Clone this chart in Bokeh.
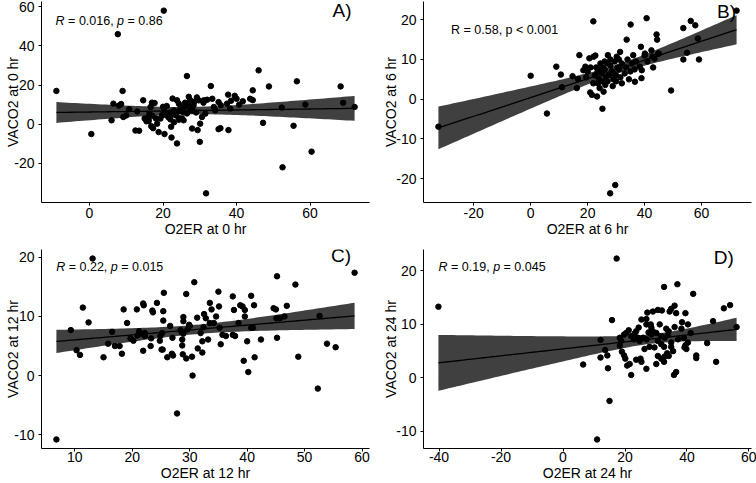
import numpy as np
from bokeh.plotting import figure
from bokeh.models import Range1d, FixedTicker, Label
from bokeh.layouts import column, row
from bokeh.embed import file_html
from bokeh.resources import INLINE

FONT = "Liberation Sans"

# ---- O2ER vs VACO2 at 0 hr ----
o2er_0 = [-9, 0.5, 7.7, 20.2, 6, 6.5, 9, 8, 8.6, 9.2, 10, 10.8, 12.5, 13.5, 13, 14.6, 15, 17, 17.7,
          16.6, 16.3, 17, 15.7, 16.1, 16.8, 17.3, 18.4, 18.8, 19.3, 19.7, 20, 20.5, 21, 20.4, 22.2,
          22.3, 23.8, 22.6, 23.8, 24.3, 26.5, 27, 27.4, 28.3, 25.2, 25.6, 27.4, 27.9, 29.2, 29.7,
          30.1, 30.6, 31.5, 31.1, 30, 29.4, 27.9, 31.7, 33, 33.4, 33.8, 34.2, 35.1, 35.7, 35.6, 35.1,
          37.7, 37.4, 38.3, 37.8, 40.7, 41.7, 43.7, 44.4, 44.4, 46, 47.2, 48.8, 52.3, 52.5, 55.5,
          56.4, 58.7, 60.4, 68.3, 69, 72.1,
          18, 15.5, 16, 20.5, 21, 21.5, 22, 22, 22.5, 23, 23, 23.5, 24, 24.3, 24.5, 24.8, 25, 25.5,
          26, 26, 26.5, 27, 28, 28.5, 29, 31, 32, 38.5, 40, 39.5]
vaco2_0 = [17, -5, 46, 58, 2, 10.5, 17, 9.5, 10.3, 3.7, 4.5, 7.7, -3.2, -3.3, 6.5, 12.2, 2.9, 11, 10.8,
           8.8, 5.3, 4.4, 3.1, 1.7, -1, -2, 0.3, -4, 2.9, 4.6, 8.9, 6.2, 9.3, -5, -1.3,
           -6.8, -9.8, 13.1, 12.2, 10.5, 24.6, 14, 12.2, 9.7, 2.9, 2, 7.1, 8.8, 13.7, 12.2,
           0.3, 3.7, 5.4, 12.2, -9, -3, -2.2, -35.3, 19.5, 13, 8.8, 7.1, 11.3, 9.7, -2, -2.5,
           15.1, 10.5, 8, -3, 10, 11.7, 13, 12.3, 17.3, 27.5, 0.7, 19.3, 8.5, -22, -0.8,
           21.9, 10, -14, 19.3, 11, 8.8,
           3, 1.5, 2.5, 5, 4.5, 3.5, 2.5, 6, 5, 7, 1, 4.5, 6.5, 2.3, 3, 9, 8, 6,
           9, 11, 5.5, 10, 7, 11.5, 6, 11, 12.5, 12, 13, 14.5]

# ---- O2ER vs VACO2 at 6 hr ----
o2er_6 = [-32.4, 0, 5.7, 9, 10.6, 11, 14.7, 16.2, 17.1, 16.6, 18.5, 19.2, 20, 20.6, 20.9, 21.5, 22,
          22.1, 22.7, 23.3, 23.6, 24.2, 25.6, 25.2, 26.2, 27.1, 27.9, 29.7, 28.8, 30.2, 31.4, 32,
          33.7, 35.1, 36, 36.6, 38.3, 38.7, 38.9, 39, 40.7, 40.1, 42.4, 42.8, 44.2, 44.4, 44.8, 49.3,
          53.6, 53.6, 54.9, 56.2, 57.8, 58.7, 59.1, 72.3,
          22.5, 23, 23.5, 24, 24.5, 25, 25.5, 26, 26.5, 27, 27.5, 28, 28.5, 29, 29.5, 30, 30.5, 31,
          31.5, 32, 33, 33.5, 34, 34.5, 35, 35.5, 36.5, 37, 24, 25, 26, 27, 28, 29, 30, 31, 22, 21,
          19.5, 41, 43, 43.5, 45, 40]
vaco2_6 = [-6.9, 5.9, -3.6, 8.2, 6.2, 3, 5.8, 2.8, 11.1, 5.1, 7.3, 8.2, 6.9, 10.3, 1.7, 1.1, 19.6,
           10.7, 11, 0.7, 4.0, 2.8, 1.9, -2.4, 3.6, 11.1, -23.7, -21.6, 3.3, 10.7, 11.9, 4,
           15, 18.8, 11.1, 4.4, 8.2, 13.2, 5.3, 7.3, 20.4, 11.5, 12.3, 10.7, 16.3, 15, 11.5, 2.2,
           17.9, 10, 11.7, 19.7, 18.6, 15.3, 10, 22.3,
           6, 8, 7, 5, 9, 6.5, 8, 7.5, 5.5, 9, 6, 8.5, 7, 5, 9.5, 6, 8, 7.5,
           5.5, 9, 6.5, 8, 10, 5, 7, 9, 7.5, 9.5, 7.5, 4.5, 9.5, 4.5, 10, 6.5, 4.5, 10, 4, 8,
           5.5, 9.5, 8, 10.2, 11.5, 11]

# ---- O2ER vs VACO2 at 12 hr ----
o2er_12 = [6.8, 9.3, 10.3, 10.9, 11.4, 12.4, 13.1, 15, 15.8, 16.5, 17, 17.8, 18.2, 18.5, 19.1, 19.7,
           20.2, 20.8, 20.9, 21.2, 21.5, 21.9, 22, 21.9, 22.2, 22.2, 23.2, 23.3, 23.5, 23.6, 24.3,
           24.8, 25.1, 25.3, 25.4, 25.4, 25.5, 25.2, 24.9, 26.1, 26.6, 26.9, 27.1, 27, 27.8, 28.4,
           28.6, 28.7, 28.7, 28.9, 28.9, 28.9, 28.8, 29.4, 29.4, 29.6, 29.9, 30, 30.4, 30.5, 30.8,
           31.3, 31.4, 31.9, 32.2, 32.2, 32.4, 32.5, 32.8, 33.2, 33.5, 33.5, 33.8, 34.2, 34.6, 35,
           35.1, 35.2, 35.4, 35.7, 36.3, 37.5, 37.7, 37.5, 37.9, 38.5, 38.8, 39.2, 39.4, 39.6, 39.6,
           40, 40.2, 40.7, 40.7, 41, 41.2, 41.3, 42.4, 44.6, 45, 45.1, 45.2, 45.2, 45.7, 46.5, 46.9,
           48.4, 48.9, 52.3, 52.6, 53.9, 55.4, 58.7]
vaco2_12 = [-10.8, 7.7, 4.3, 3.5, 11.5, 9, 19.8, 3.1, 5.4, 7.4, 5, 5, 3.7, 11.2, 8.9, 6.3,
            5.9, 11.2, 6.8, 7.5, 7.1, 12.2, 11.9, 4.2, 7.2, 6.7, 5, 6.3, 11, 10.7, 12.3,
            5.9, 4.4, 4.4, 10.9, 9.3, 14, 7.2, 6.7, 3.1, 8.4, 3.7, 3.4, 6.4, -6.4, 7.7,
            7.3, 6.1, 5.1, 7.1, 9.9, 9.2, 3.6, 13.8, 2.9, 7.8, 8.6, 8.4, 3.2, 0, 15.8,
            9.8, 4.6, 7.2, 5.8, 3.9, 8.2, 10.4, 9.7, 6.1, 8.9, 12.3, 11.2, 8.9, 10, 14.2,
            11.7, 8.1, 5.3, 6.9, 6.7, 13.4, 11.1, 6.9, 6.7, 8.9, 11.9, 11.7, 2.5, 11.1, 10,
            5.8, 0.6, 13.5, 8.1, 8.1, 11.9, 3.1, 6.1, 11.4, 11.2, 9.7, 6.4, 16.8, 9.7, 10, 11.8,
            15.4, 3.2, -2.2, 10.1, 5.4, 4.8, 17.4]

# ---- O2ER vs VACO2 at 24 hr ----
o2er_24 = [-40.2, 6.5, 11, 15, 17.3, 15.8, 32.6, 36.9, 42, 51.9, 53.9, 56, 48.4, 49.4, 46.5, 43, 43,
           35.8, 36.5, 26.9, 28.3, 25.3, 26.9, 27.2, 29, 30.6, 31.9, 34.9, 36, 34.4, 36.5, 39.5,
           38.4, 40.3, 36, 38.2, 33.3, 34.1, 31.2, 28.5, 29, 27.6, 24.4, 23.6, 23.1, 21.2, 20.4,
           19.7, 18.3, 18.8, 22, 22.9, 24.2, 24.7, 25.8, 26.9, 28.5, 30.1, 31.7, 32.8, 33.9, 30.6,
           31.7, 32.6, 34.9, 37.1, 39, 39.5, 40.3, 41.2, 39.2, 12.1, 13.6, 12.1, 14.3, 14.5, 18.3,
           19, 19.7, 20.1, 20.7, 21.5, 22, 23.6, 25, 25.3, 26.9, 26.3, 27.9, 29.5, 30.6, 31.7, 32.8,
           33.6, 34.1, 30.1, 32.6, 34.9, 35.5, 39.8]
vaco2_24 = [13.3, 2.5, -11.5, -4.3, 22.3, 10.8, 17, 17.5, 15.7, 13, 13.6, 9.5, 10.6, 3, 6.5, 4.2, 3.7,
            0.55, 1.1, 10, 10, 10.9, 11, 12.2, 12.4, 12.7, 12.6, 12.9, 13.5, 12.4, 12.1, 12.1,
            10.4, 10, 9.5, 9.2, 9.2, 8.7, 10, 9.4, 8.7, 8.5, 9.4, 8.7, 8.3, 8.9, 8.4,
            8.1, 7.5, 6.9, 7.8, 7.2, 7.5, 6.9, 7.5, 7.2, 8.1, 8.4, 7.8, 7.5, 8.1, 6.9,
            6.3, 5.8, 6.6, 7.2, 7.5, 6.1, 6.6, 8.4, 5.7, 7.1, 5.2, 3.8, 4.2, 1.8, 6,
            4.9, 4.2, 3.6, 2.3, 2.6, 0.55, 3.4, 3.6, 3, 1.7, 5.4, 5.8, 5.7, 4.1, 3.6, 4,
            4.6, 4.1, 2.6, 3, 5.8, 5, 5.4]

# ---- axis ticks ----
xticks_0 = [0, 20, 40, 60]
yticks_0 = [-20, 0, 20, 40, 60]
xticks_6 = [-20, 0, 20, 40, 60]
yticks_6 = [-20, -10, 0, 10, 20]
xticks_12 = [10, 20, 30, 40, 50, 60]
yticks_12 = [-10, 0, 10, 20]
xticks_24 = [-40, -20, 0, 20, 40, 60]
yticks_24 = [-10, 0, 10, 20]

# ---- correlation annotations: (text, italic) pieces ----
stat_0 = [("R", True), (" = 0.016, ", False), ("p", True), (" = 0.86", False)]
stat_6 = [("R = 0.58, p < 0.001", False)]
stat_12 = [("R", True), (" = 0.22, ", False), ("p", True), (" = 0.015", False)]
stat_24 = [("R", True), (" = 0.19, ", False), ("p", True), (" = 0.045", False)]

# Arial / Liberation Sans advance widths (em units)
ADV = {"R": 0.722, " ": 0.278, "=": 0.584, "<": 0.584, ".": 0.278, ",": 0.278, "p": 0.556}
for d in "0123456789":
    ADV[d] = 0.556

TICK_SIZE = "14px"
TITLE_SIZE = "14px"
STAT_SIZE = 12.5
TAG_SIZE = "19px"


def text_width(s, size):
    return sum(ADV.get(c, 0.556) for c in s) * size


def t975(df):
    z = 1.959964
    g1 = (z ** 3 + z) / 4
    g2 = (5 * z ** 5 + 16 * z ** 3 + 3 * z) / 96
    return z + g1 / df + g2 / df ** 2


def linear_fit(x, y, n_pts=80):
    n = len(x)
    xm, ym = x.mean(), y.mean()
    sxx = ((x - xm) ** 2).sum()
    b = ((x - xm) * (y - ym)).sum() / sxx
    a = ym - b * xm
    s = np.sqrt(((y - (a + b * x)) ** 2).sum() / (n - 2))
    xs = np.linspace(x.min(), x.max(), n_pts)
    fit = a + b * xs
    se = s * np.sqrt(1.0 / n + (xs - xm) ** 2 / sxx)
    t = t975(n - 2)
    return xs, fit, fit - t * se, fit + t * se


def panel(x, y, xticks, yticks, xlabel, ylabel, stat, stat_pos, tag, tag_pos,
          width, height, borders, ylab_standoff, xaxis_style):
    x = np.asarray(x, dtype=float)
    y = np.asarray(y, dtype=float)
    xpad = 0.05 * (x.max() - x.min())
    ypad = 0.05 * (y.max() - y.min())
    left, right, top, bottom = borders
    p = figure(width=width, height=height,
               x_range=Range1d(x.min() - xpad, x.max() + xpad),
               y_range=Range1d(y.min() - ypad, y.max() + ypad),
               output_backend="svg", toolbar_location=None,
               min_border_left=left, min_border_right=right,
               min_border_top=top, min_border_bottom=bottom)
    p.outline_line_color = None
    p.xgrid.visible = False
    p.ygrid.visible = False
    p.background_fill_color = "white"
    p.border_fill_color = "white"

    xs, fit, lo, hi = linear_fit(x, y)
    p.varea(x=xs, y1=lo, y2=hi, fill_color="#404040")
    p.scatter(x, y, size=5.5, fill_color="black", line_color="black")
    p.line(xs, fit, line_color="black", line_width=1.3)

    p.xaxis.ticker = FixedTicker(ticks=xticks)
    p.yaxis.ticker = FixedTicker(ticks=yticks)
    p.xaxis.major_label_overrides = {t: str(t) for t in xticks}
    p.yaxis.major_label_overrides = {t: str(t) for t in yticks}
    p.xaxis.axis_label = xlabel
    p.yaxis.axis_label = ylabel
    for ax in (p.xaxis[0], p.yaxis[0]):
        ax.axis_line_color = "black"
        ax.axis_line_width = 1
        ax.major_tick_line_color = "black"
        ax.major_tick_out = 3
        ax.major_tick_in = 0
        ax.minor_tick_line_color = None
        ax.major_label_text_font = FONT
        ax.major_label_text_font_size = TICK_SIZE
        ax.major_label_text_color = "black"
        ax.axis_label_text_font = FONT
        ax.axis_label_text_font_size = TITLE_SIZE
        ax.axis_label_text_font_style = "normal"
        ax.axis_label_text_color = "black"
    tick_standoff, lab_standoff, lab_line_height = xaxis_style
    p.xaxis.major_label_standoff = tick_standoff
    p.xaxis.axis_label_standoff = lab_standoff
    p.xaxis.axis_label_text_line_height = lab_line_height
    p.yaxis.major_label_standoff = 4
    p.yaxis.axis_label_standoff = ylab_standoff

    xr, yr = p.x_range, p.y_range

    # correlation text with italic R and p
    fx, fy = stat_pos
    sx = xr.start + fx * (xr.end - xr.start)
    sy = yr.start + fy * (yr.end - yr.start)
    offset = 0.0
    for txt, italic in stat:
        lead = len(txt) - len(txt.lstrip())
        p.add_layout(Label(x=sx, y=sy, x_offset=offset + text_width(txt[:lead], STAT_SIZE),
                           text=txt.strip(), text_font=FONT, text_font_size=f"{STAT_SIZE}px",
                           text_font_style="italic" if italic else "normal",
                           text_baseline="middle", text_align="left", text_color="black"))
        offset += text_width(txt, STAT_SIZE)

    # panel tag
    gx, gy = tag_pos
    p.add_layout(Label(x=xr.start + gx * (xr.end - xr.start),
                       y=yr.start + gy * (yr.end - yr.start),
                       text=tag, text_font=FONT, text_font_size=TAG_SIZE,
                       text_baseline="middle", text_align="right", text_color="black"))
    return p


TOP_X = (2, 0, 1.2)
BOTTOM_X = (0, 0, 1.0)

pA = panel(o2er_0, vaco2_0, xticks_0, yticks_0, "O2ER at 0 hr", "VACO2 at 0 hr",
           stat_0, (0.043, 0.905), "A)", (0.945, 0.955),
           378, 240, (41, 9, 1, 38), -10, TOP_X)
pB = panel(o2er_6, vaco2_6, xticks_6, yticks_6, "O2ER at 6 hr", "VACO2 at 6 hr",
           stat_6, (0.084, 0.86), "B)", (0.953, 0.95),
           378, 240, (45, 5, 1, 38), -6, TOP_X)
pC = panel(o2er_12, vaco2_12, xticks_12, yticks_12, "O2ER at 12 hr", "VACO2 at 12 hr",
           stat_12, (0.045, 0.914), "C)", (0.944, 0.97),
           378, 243, (41, 9, 9, 33), -10, BOTTOM_X)
pD = panel(o2er_24, vaco2_24, xticks_24, yticks_24, "O2ER at 24 hr", "VACO2 at 24 hr",
           stat_24, (0.046, 0.914), "D)", (0.946, 0.962),
           378, 243, (45, 5, 9, 33), -6, BOTTOM_X)

layout = column(row(pA, pB), row(pC, pD))

with open("out.html", "w") as f:
    f.write(file_html(layout, INLINE))
